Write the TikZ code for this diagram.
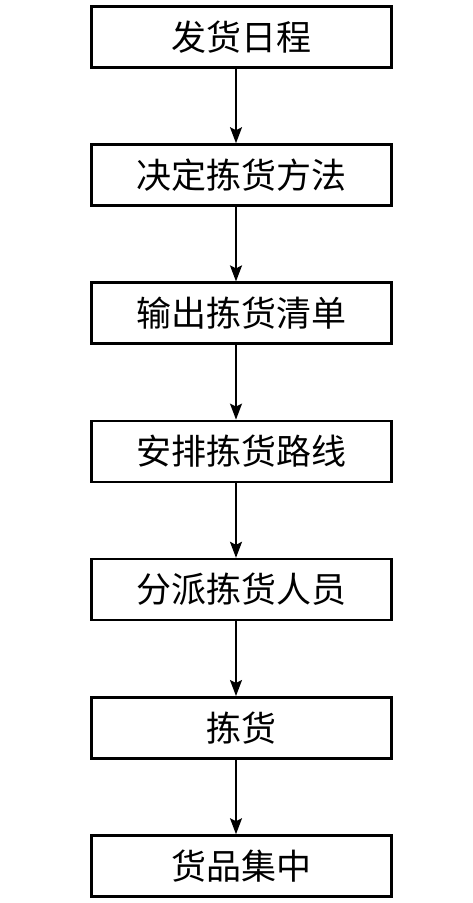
\documentclass[tikz,border=0pt]{standalone}
\usepackage{fontspec}
\newfontfamily\cjk{Noto Sans CJK SC}
\usetikzlibrary{positioning,arrows.meta}

\tikzset{
    stepbox/.style={draw, line width=2.6pt, minimum width=300pt, minimum height=61pt,
        inner sep=0pt, font=\cjk\fontsize{35}{35}\selectfont},
    flowline/.style={->, line width=1.7pt},
}

\begin{document}
\begin{tikzpicture}[x=1pt, y=-1pt, >={Stealth[length=16pt,width=12pt,inset=3pt]}, node distance=74.6pt]
    \useasboundingbox (0,0) rectangle (472,903);

    \node[stepbox] (fahuo) at (241.5,36.8) {发货日程};
    \node[stepbox, below=of fahuo] (fangfa) {决定拣货方法};
    \node[stepbox, below=of fangfa] (qingdan) {输出拣货清单};
    \node[stepbox, below=of qingdan] (luxian) {安排拣货路线};
    \node[stepbox, below=of luxian] (renyuan) {分派拣货人员};
    \node[stepbox, below=of renyuan] (jianhuo) {拣货};
    \node[stepbox, below=of jianhuo] (jizhong) {货品集中};

    \foreach \a/\b in {fahuo/fangfa, fangfa/qingdan, qingdan/luxian,
                       luxian/renyuan, renyuan/jianhuo, jianhuo/jizhong}
        \draw[flowline] ([xshift=-5.5pt]\a.south) -- ([xshift=-5.5pt]\b.north);
\end{tikzpicture}
\end{document}
